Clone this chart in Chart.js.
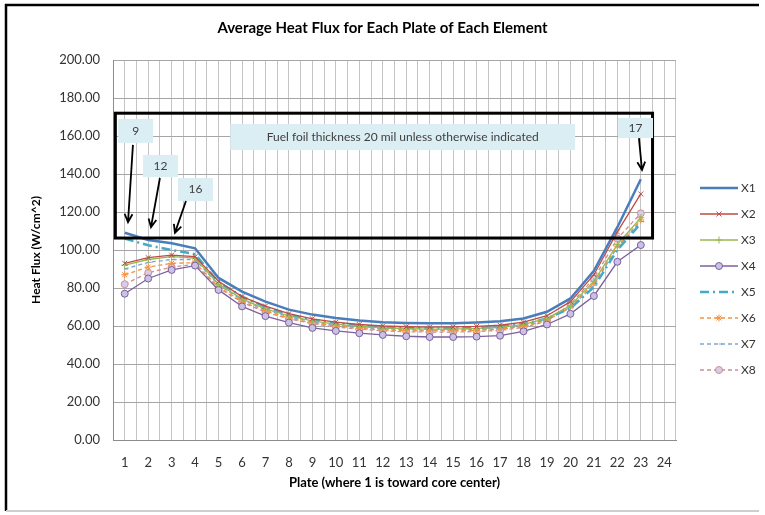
<!DOCTYPE html>
<html>
<head>
<meta charset="utf-8">
<title>Average Heat Flux</title>
<script src="https://cdn.jsdelivr.net/npm/chart.js@4.4.1/dist/chart.umd.min.js"></script>
<style>
    html, body { margin: 0; padding: 0; background: #fff; }
    #wrap { width: 765px; height: 515px; position: relative; }
</style>
</head>
<body>
<div id="wrap"><canvas id="heatChart" width="765" height="515"></canvas></div>
<script>
// -----------------------------
// Data
// -----------------------------
const plates = ['1','2','3','4','5','6','7','8','9','10','11','12','13','14','15','16','17','18','19','20','21','22','23','24'];

const x1 = [109.1, 105.3, 103.5, 100.9, 85.3, 78.1, 72.8, 68.6, 66.0, 64.2, 62.9, 62.0, 61.6, 61.4, 61.5, 61.9, 62.5, 64.0, 67.5, 74.5, 89.0, 112.0, 137.2];
const x2 = [93.0, 96.0, 97.3, 96.5, 83.5, 75.5, 70.5, 66.5, 63.8, 62.0, 60.8, 60.0, 59.6, 59.4, 59.5, 59.8, 60.4, 62.0, 65.4, 72.8, 87.0, 109.5, 129.5];
const x3 = [92.0, 95.0, 96.5, 95.8, 82.0, 74.3, 69.0, 65.3, 62.7, 61.0, 59.8, 59.0, 58.6, 58.4, 58.4, 58.7, 59.3, 60.8, 64.0, 70.8, 83.5, 103.0, 117.0];
const x4 = [77.0, 85.0, 89.5, 91.8, 79.0, 70.3, 65.2, 61.8, 59.0, 57.4, 56.2, 55.3, 54.6, 54.2, 54.2, 54.4, 54.9, 57.2, 60.8, 66.4, 75.8, 93.8, 102.6];
const x5 = [106.0, 102.5, 100.0, 97.8, 83.0, 75.5, 70.0, 66.0, 63.2, 61.4, 60.2, 59.3, 58.9, 58.7, 58.7, 59.0, 59.6, 61.0, 64.0, 69.3, 80.5, 100.0, 114.0];
const x6 = [87.0, 91.0, 93.0, 93.3, 80.5, 73.0, 67.8, 64.2, 61.6, 60.0, 58.8, 58.0, 57.6, 57.4, 57.4, 57.7, 58.3, 59.8, 63.0, 70.0, 82.5, 102.0, 115.8];
const x7 = [90.0, 93.5, 95.0, 95.0, 81.5, 73.8, 68.5, 64.8, 62.2, 60.5, 59.3, 58.5, 58.0, 57.8, 57.8, 58.1, 58.7, 60.2, 63.4, 69.6, 81.5, 101.5, 115.0];
const x8 = [82.0, 88.0, 91.0, 92.5, 80.0, 72.5, 67.3, 63.8, 61.2, 59.5, 58.3, 57.5, 57.0, 56.8, 56.8, 57.1, 57.7, 59.3, 62.5, 71.5, 85.0, 106.0, 119.3];

const yTicks = { min: 0, max: 200, step: 20 };

// -----------------------------
// Annotations (in data units: x = plate index from 0, y = W/cm^2)
// -----------------------------
const frameBox = { xMin: -0.4, xMax: 22.5, yMin: 106.3, yMax: 172 };
const noteBox = { xMin: 4.5, xMax: 19.2, yMin: 152.6, yMax: 166.3, text: 'Fuel foil thickness 20 mil unless otherwise indicated' };
const callouts = [
    { text: '9',  xMin: -0.28, xMax: 1.21,  yMin: 156.3, yMax: 169.0, from: [0.35, 155.3],  to: [0.14, 114.7] },
    { text: '12', xMin: 0.78,  xMax: 2.27,  yMin: 138.4, yMax: 150.0, from: [1.50, 137.9],  to: [1.12, 112.0] },
    { text: '16', xMin: 2.27,  xMax: 3.76,  yMin: 125.8, yMax: 137.9, from: [2.61, 125.8],  to: [2.14, 109.0] },
    { text: '17', xMin: 21.03, xMax: 22.52, yMin: 158.9, yMax: 169.5, from: [21.92, 158.9], to: [22.05, 142.1] }
];

const FONT = 'Lato, "Liberation Sans", sans-serif';

// -----------------------------
// Series styles
// -----------------------------
const series = [
    { label: 'X1', data: x1, color: '#4a7ebb', width: 2.5, dash: [], point: false },
    { label: 'X2', data: x2, color: '#be4b48', width: 1.3, dash: [], point: 'crossRot' },
    { label: 'X3', data: x3, color: '#98b954', width: 1.3, dash: [], point: 'cross' },
    { label: 'X4', data: x4, color: '#7d60a0', width: 1.3, dash: [], point: 'circle', fill: '#c9c2e4' },
    { label: 'X5', data: x5, color: '#46aac5', width: 2.5, dash: [9, 4, 2, 4], point: false },
    { label: 'X6', data: x6, color: '#f69240', width: 1.3, dash: [4, 3], point: 'star' },
    { label: 'X7', data: x7, color: '#7ea6d4', width: 1.3, dash: [4, 3], point: 'dash' },
    { label: 'X8', data: x8, color: '#cf8f8c', width: 1.3, dash: [4, 3], point: 'circle', fill: '#d6cdea' }
];

const datasets = series.map(s => ({
    label: s.label,
    data: s.data,
    borderColor: s.color,
    backgroundColor: s.fill || s.color,
    borderWidth: s.width,
    borderDash: s.dash,
    pointStyle: s.point,
    pointRadius: s.point ? 3.5 : 0,
    pointBorderColor: s.color,
    pointBackgroundColor: s.fill || s.color,
    pointBorderWidth: 1,
    tension: 0,
    fill: false
}));

// -----------------------------
// Helpers
// -----------------------------
function arrow(ctx, x0, y0, x1, y1) {
    const a = Math.atan2(y1 - y0, x1 - x0);
    const len = 9, spread = 0.45;
    ctx.beginPath();
    ctx.moveTo(x0, y0);
    ctx.lineTo(x1, y1);
    ctx.moveTo(x1 - len * Math.cos(a - spread), y1 - len * Math.sin(a - spread));
    ctx.lineTo(x1, y1);
    ctx.lineTo(x1 - len * Math.cos(a + spread), y1 - len * Math.sin(a + spread));
    ctx.stroke();
}

const extras = {
    id: 'extras',
    afterDatasetsDraw(chart) {
        const { ctx, scales: { x, y } } = chart;
        const px = v => x.getPixelForValue(v);
        const py = v => y.getPixelForValue(v);
        ctx.save();

        // black box
        ctx.strokeStyle = '#000';
        ctx.lineWidth = 3;
        ctx.strokeRect(px(frameBox.xMin), py(frameBox.yMax), px(frameBox.xMax) - px(frameBox.xMin), py(frameBox.yMin) - py(frameBox.yMax));

        // note
        ctx.fillStyle = '#dbeef4';
        ctx.fillRect(px(noteBox.xMin), py(noteBox.yMax), px(noteBox.xMax) - px(noteBox.xMin), py(noteBox.yMin) - py(noteBox.yMax));
        ctx.fillStyle = '#404040';
        ctx.font = '12px ' + FONT;
        ctx.textAlign = 'center';
        ctx.textBaseline = 'middle';
        ctx.fillText(noteBox.text, (px(noteBox.xMin) + px(noteBox.xMax)) / 2, (py(noteBox.yMin) + py(noteBox.yMax)) / 2);

        // callouts
        callouts.forEach(c => {
            ctx.fillStyle = '#dbeef4';
            ctx.fillRect(px(c.xMin), py(c.yMax), px(c.xMax) - px(c.xMin), py(c.yMin) - py(c.yMax));
            ctx.fillStyle = '#404040';
            ctx.font = '12px ' + FONT;
            ctx.fillText(c.text, (px(c.xMin) + px(c.xMax)) / 2, (py(c.yMin) + py(c.yMax)) / 2);
            ctx.strokeStyle = '#000';
            ctx.lineWidth = 1.8;
            arrow(ctx, px(c.from[0]), py(c.from[1]), px(c.to[0]), py(c.to[1]));
        });
        ctx.restore();
    },
    afterDraw(chart) {
        const { ctx } = chart;
        ctx.save();

        // legend (line sample + marker)
        chart.data.datasets.forEach((ds, i) => {
            const ly = 188 + i * 26;
            ctx.strokeStyle = ds.borderColor;
            ctx.lineWidth = ds.borderWidth;
            ctx.setLineDash(ds.borderDash);
            ctx.beginPath();
            ctx.moveTo(700, ly);
            ctx.lineTo(738, ly);
            ctx.stroke();
            ctx.setLineDash([]);
            if (ds.pointStyle) {
                ctx.fillStyle = ds.pointBackgroundColor;
                ctx.strokeStyle = ds.pointBorderColor;
                ctx.lineWidth = 1;
                Chart.helpers.drawPoint(ctx, { pointStyle: ds.pointStyle, radius: 3.5, rotation: 0, borderWidth: 1 }, 719, ly);
            }
            ctx.fillStyle = '#333';
            ctx.font = '12px ' + FONT;
            ctx.textAlign = 'left';
            ctx.textBaseline = 'middle';
            ctx.fillText(ds.label, 741, ly);
        });

        // outer frame
        ctx.strokeStyle = '#000';
        ctx.lineWidth = 2.5;
        ctx.beginPath();
        ctx.moveTo(6, 511);
        ctx.lineTo(6, 5);
        ctx.lineTo(759, 5);
        ctx.stroke();
        ctx.strokeStyle = '#cfcfcf';
        ctx.lineWidth = 2;
        ctx.beginPath();
        ctx.moveTo(6, 511);
        ctx.lineTo(759, 511);
        ctx.stroke();
        ctx.restore();
    }
};

// -----------------------------
// Chart
// -----------------------------
new Chart(document.getElementById('heatChart').getContext('2d'), {
    type: 'line',
    data: { labels: plates, datasets: datasets },
    options: {
        responsive: false,
        animation: false,
        layout: { padding: 0 },
        plugins: {
            legend: { display: false },
            tooltip: { enabled: false },
            title: {
                display: true,
                text: 'Average Heat Flux for Each Plate of Each Element',
                color: '#000',
                font: { family: FONT, size: 15, weight: 'bold' },
                padding: { top: 19, bottom: 23 }
            }
        },
        scales: {
            x: {
                type: 'category',
                offset: true,
                grid: { color: '#c4c4c4', drawTicks: false },
                border: { color: '#8c8c8c' },
                ticks: { color: '#333', font: { family: FONT, size: 13 }, padding: 15, maxRotation: 0, autoSkip: false },
                title: {
                    display: true,
                    text: 'Plate (where 1 is toward core center)',
                    color: '#000',
                    font: { family: FONT, size: 13, weight: 'bold' },
                    padding: { top: 4, bottom: 24 }
                },
                afterFit: s => { s.height = 75; }
            },
            xb: {
                type: 'category',
                labels: plates,
                offset: true,
                position: 'bottom',
                grid: { offset: true, color: '#c4c4c4', drawTicks: false },
                border: { display: false },
                ticks: { display: false },
                afterFit: s => { s.height = 0; }
            },
            y: {
                min: yTicks.min,
                max: yTicks.max,
                grid: { color: '#a6a6a6', drawTicks: false },
                border: { color: '#8c8c8c' },
                ticks: {
                    stepSize: yTicks.step,
                    color: '#333',
                    font: { family: FONT, size: 13 },
                    padding: 13,
                    callback: v => v.toFixed(2)
                },
                title: {
                    display: true,
                    text: 'Heat Flux (W/cm^2)',
                    color: '#000',
                    font: { family: FONT, size: 12, weight: 'bold' },
                    padding: { top: 29, bottom: 0 }
                },
                afterFit: s => { s.width = 113; }
            },
            // empty right-hand axis: keeps room for the legend column
            legendSpace: {
                position: 'right',
                min: yTicks.min,
                max: yTicks.max,
                grid: { display: false, drawOnChartArea: false },
                border: { display: false },
                ticks: { display: false },
                afterFit: s => { s.width = 89; }
            }
        }
    },
    plugins: [extras]
});
</script>
</body>
</html>
